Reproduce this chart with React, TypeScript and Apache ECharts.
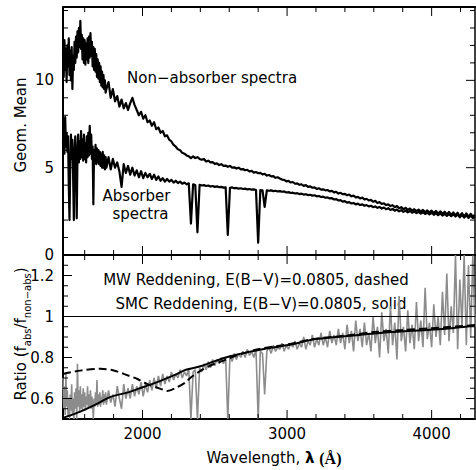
import React, { useEffect, useRef } from "react";
import * as echarts from "echarts";

const FONT = '"DejaVu Sans", "Liberation Sans", sans-serif';

// ---- axis ranges & tick values ----
const X_MIN = 1450;
const X_MAX = 4300;
const X_MAJOR = [2000, 3000, 4000];
const X_MINOR = [1600, 1800, 2200, 2400, 2600, 2800, 3200, 3400, 3600, 3800, 4200];
const YT_MIN = 0;
const YT_MAX = 14.2;
const YT_MAJOR = [0, 5, 10];
const YT_MINOR = [1, 2, 3, 4, 6, 7, 8, 9, 11, 12, 13, 14];
const YB_MIN = 0.5;
const YB_MAX = 1.3;
const YB_MAJOR = [0.6, 0.8, 1, 1.2];
const YB_MINOR = [0.55, 0.65, 0.7, 0.75, 0.85, 0.9, 0.95, 1.05, 1.1, 1.15, 1.25];

// ---- wavelength grid of the spectra (Å): 5 Å steps up to 1745, then 15 Å ----
const WAVELENGTH = [
  1450, 1455, 1460, 1465, 1470, 1475, 1480, 1485, 1490, 1495,
  1500, 1505, 1510, 1515, 1520, 1525, 1530, 1535, 1540, 1545,
  1550, 1555, 1560, 1565, 1570, 1575, 1580, 1585, 1590, 1595,
  1600, 1605, 1610, 1615, 1620, 1625, 1630, 1635, 1640, 1645,
  1650, 1655, 1660, 1665, 1670, 1675, 1680, 1685, 1690, 1695,
  1700, 1705, 1710, 1715, 1720, 1725, 1730, 1735, 1740, 1745,
  1750, 1765, 1780, 1795, 1810, 1825, 1840, 1855, 1870, 1885,
  1900, 1915, 1930, 1945, 1960, 1975, 1990, 2005, 2020, 2035,
  2050, 2065, 2080, 2095, 2110, 2125, 2140, 2155, 2170, 2185,
  2200, 2215, 2230, 2245, 2260, 2275, 2290, 2305, 2320, 2335,
  2350, 2365, 2380, 2395, 2410, 2425, 2440, 2455, 2470, 2485,
  2500, 2515, 2530, 2545, 2560, 2575, 2590, 2605, 2620, 2635,
  2650, 2665, 2680, 2695, 2710, 2725, 2740, 2755, 2770, 2785,
  2800, 2815, 2830, 2845, 2860, 2875, 2890, 2905, 2920, 2935,
  2950, 2965, 2980, 2995, 3010, 3025, 3040, 3055, 3070, 3085,
  3100, 3115, 3130, 3145, 3160, 3175, 3190, 3205, 3220, 3235,
  3250, 3265, 3280, 3295, 3310, 3325, 3340, 3355, 3370, 3385,
  3400, 3415, 3430, 3445, 3460, 3475, 3490, 3505, 3520, 3535,
  3550, 3565, 3580, 3595, 3610, 3625, 3640, 3655, 3670, 3685,
  3700, 3715, 3730, 3745, 3760, 3775, 3790, 3805, 3820, 3835,
  3850, 3865, 3880, 3895, 3910, 3925, 3940, 3955, 3970, 3985,
  4000, 4015, 4030, 4045, 4060, 4075, 4090, 4105, 4120, 4135,
  4150, 4165, 4180, 4195, 4210, 4225, 4240, 4255, 4270, 4285,
  4300,
];

// Non-absorber geometric-mean spectrum
const NON_ABSORBER = [
  11.6, 10.2, 12.3, 10.6, 11.8, 9.9, 12.0, 10.8, 12.4, 10.3,
  11.7, 10.0, 11.9, 9.5, 11.4, 10.6, 12.2, 11.0, 12.5, 11.3,
  12.8, 11.6, 13.0, 11.9, 13.4, 11.8, 12.6, 11.2, 12.4, 11.0,
  12.3, 10.9, 12.1, 11.2, 12.4, 11.0, 12.5, 11.3, 12.7, 11.4,
  12.2, 10.8, 11.9, 10.6, 11.8, 10.5, 11.5, 10.2, 11.2, 10.1,
  11.0, 9.9, 10.8, 9.7, 10.5, 9.6, 10.3, 9.5, 10.0, 9.3,
  9.5, 9.9, 9.0, 9.5, 8.8, 9.1, 8.5, 8.9, 8.4, 8.7,
  8.3, 8.7, 9.0, 8.6, 8.3, 8.0, 8.2, 7.8, 8.0, 7.6,
  7.7, 7.4, 7.6, 7.2, 7.3, 7.0, 7.1, 6.8, 6.85, 6.6,
  6.5, 6.3, 6.2, 6.05, 6.0, 5.85, 5.8, 5.7, 5.65, 5.55,
  5.65, 5.55, 5.6, 5.5, 5.45, 5.5, 5.35, 5.4, 5.3, 5.32,
  5.22, 5.25, 5.15, 5.2, 5.1, 5.12, 5.05, 5.1, 5.0, 5.02,
  4.95, 5.0, 4.9, 4.92, 4.85, 4.88, 4.78, 4.82, 4.72, 4.75,
  4.68, 4.7, 4.62, 4.65, 4.55, 4.58, 4.5, 4.52, 4.42, 4.45,
  4.38, 4.32, 4.3, 4.22, 4.24, 4.15, 4.18, 4.08, 4.1, 4.02,
  4.05, 3.96, 4.0, 3.9, 3.93, 3.85, 3.87, 3.78, 3.82, 3.74,
  3.76, 3.7, 3.72, 3.64, 3.67, 3.58, 3.62, 3.52, 3.56, 3.48,
  3.5, 3.42, 3.46, 3.36, 3.4, 3.3, 3.33, 3.24, 3.28, 3.18,
  3.22, 3.12, 3.16, 3.05, 3.1, 2.98, 3.03, 2.92, 2.96, 2.86,
  2.9, 2.8, 2.85, 2.74, 2.8, 2.68, 2.74, 2.62, 2.7, 2.58,
  2.66, 2.55, 2.62, 2.52, 2.6, 2.48, 2.58, 2.45, 2.55, 2.44,
  2.54, 2.4, 2.52, 2.38, 2.5, 2.36, 2.48, 2.32, 2.46, 2.3,
  2.44, 2.28, 2.42, 2.22, 2.4, 2.2, 2.38, 2.18, 2.36, 2.2,
  2.3,
];

// Absorber geometric-mean spectrum
const ABSORBER = [
  6.4, 7.6, 5.8, 7.9, 6.2, 7.0, 5.9, 6.8, 4.0, 2.0,
  5.0, 6.9, 5.5, 6.6, 4.5, 2.0, 5.8, 6.8, 5.4, 2.1,
  5.6, 6.9, 5.3, 6.5, 5.5, 7.1, 5.6, 6.6, 5.4, 6.9,
  5.5, 6.4, 5.3, 6.8, 5.6, 7.0, 5.7, 7.4, 5.8, 6.9,
  5.5, 6.2, 2.9, 6.0, 5.3, 6.3, 5.2, 6.1, 5.3, 6.0,
  5.2, 5.9, 5.1, 5.8, 5.0, 5.9, 5.0, 5.7, 4.9, 5.6,
  5.0, 5.6, 4.9, 5.5, 5.0, 5.3, 4.8, 3.9, 5.2, 4.7,
  5.1, 4.6, 5.0, 4.55, 4.85, 4.45, 4.8, 4.4, 4.7, 4.45,
  4.65, 4.35, 4.6, 4.3, 4.5, 4.25, 4.4, 4.2, 4.35, 4.2,
  4.3, 4.15, 4.25, 4.12, 4.2, 4.08, 4.15, 4.05, 4.1, 1.8,
  4.05, 4.0, 1.3, 4.02, 3.98, 4.0, 3.95, 3.98, 3.92, 3.95,
  3.9, 3.93, 3.88, 3.9, 3.86, 3.88, 1.15, 3.85, 3.87, 3.82,
  3.84, 3.8, 3.82, 3.78, 3.8, 3.76, 3.78, 3.74, 3.76, 3.72,
  0.7, 3.72, 3.7, 2.75, 3.7, 3.68, 3.7, 3.66, 3.68, 3.64,
  3.66, 3.62, 3.64, 3.58, 3.6, 3.55, 3.57, 3.52, 3.54, 3.49,
  3.51, 3.46, 3.48, 3.43, 3.45, 3.4, 3.42, 3.36, 3.38, 3.32,
  3.34, 3.28, 3.3, 3.24, 3.26, 3.18, 3.2, 3.12, 3.14, 3.06,
  3.08, 3.0, 3.03, 2.95, 2.98, 2.9, 2.94, 2.86, 2.9, 2.82,
  2.86, 2.78, 2.82, 2.74, 2.78, 2.7, 2.75, 2.66, 2.72, 2.62,
  2.68, 2.58, 2.64, 2.54, 2.6, 2.5, 2.57, 2.47, 2.54, 2.44,
  2.52, 2.42, 2.5, 2.4, 2.47, 2.37, 2.45, 2.35, 2.43, 2.33,
  2.42, 2.3, 2.4, 2.28, 2.38, 2.26, 2.36, 2.24, 2.34, 2.22,
  2.33, 2.2, 2.32, 2.16, 2.3, 2.14, 2.28, 2.12, 2.26, 2.12,
  2.2,
];

// Ratio f_abs / f_non-abs
const RATIO = [
  0.7, 0.55, 0.66, 0.52, 0.72, 0.56, 0.64, 0.51, 0.6, 0.5,
  0.62, 0.54, 0.67, 0.52, 0.6, 0.5, 0.63, 0.55, 0.65, 0.5,
  0.77, 0.56, 0.64, 0.53, 0.66, 0.55, 0.62, 0.54, 0.65, 0.56,
  0.63, 0.54, 0.61, 0.57, 0.66, 0.55, 0.62, 0.56, 0.64, 0.55,
  0.61, 0.57, 0.5, 0.6, 0.56, 0.63, 0.57, 0.69, 0.56, 0.62,
  0.57, 0.63, 0.56, 0.61, 0.58, 0.64, 0.57, 0.62, 0.58, 0.63,
  0.57, 0.64, 0.58, 0.62, 0.56, 0.66, 0.6, 0.55, 0.67, 0.6,
  0.65, 0.6, 0.67, 0.61, 0.66, 0.62, 0.68, 0.61, 0.67, 0.63,
  0.69, 0.64, 0.7, 0.65, 0.71, 0.66, 0.72, 0.67, 0.71, 0.68,
  0.73, 0.69, 0.72, 0.7, 0.74, 0.7, 0.73, 0.71, 0.745, 0.5,
  0.73, 0.74, 0.5, 0.75, 0.73, 0.77, 0.74, 0.78, 0.75, 0.79,
  0.76, 0.79, 0.77, 0.8, 0.77, 0.8, 0.5, 0.81, 0.78, 0.82,
  0.79, 0.82, 0.8, 0.83, 0.8, 0.84, 0.81, 0.83, 0.8, 0.84,
  0.5, 0.83, 0.82, 0.62, 0.83, 0.85, 0.82, 0.86, 0.83, 0.85,
  0.84, 0.87, 0.83, 0.86, 0.84, 0.87, 0.85, 0.88, 0.84, 0.87,
  0.85, 0.9, 0.84, 0.88, 0.86, 0.91, 0.85, 0.89, 0.86, 0.92,
  0.86, 0.9, 0.85, 0.93, 0.87, 0.91, 0.86, 0.94, 0.87, 0.92,
  0.84, 0.96, 0.87, 0.93, 0.83, 0.98, 0.88, 0.94, 0.85, 0.97,
  0.86, 0.92, 0.83, 1.0, 0.87, 0.95, 0.8, 1.02, 0.88, 0.94,
  0.82, 1.05, 0.86, 0.97, 0.79, 1.1, 0.88, 0.95, 0.83, 1.03,
  0.87, 0.96, 0.84, 1.07, 0.88, 0.98, 0.85, 1.14, 0.89, 0.97,
  0.85, 1.06, 0.9, 1.0, 0.86, 1.12, 0.91, 1.21, 0.88, 1.05,
  0.92, 1.3, 0.84, 1.18, 0.95, 1.3, 0.86, 1.25, 0.9, 1.3,
  0.95,
];

// SMC reddening curve (solid)
const SMC_WL = [1450, 1490, 1570, 1660, 1780, 1900, 2000, 2120, 2240, 2300, 2400, 2490, 2600, 2720, 2830, 2950, 3070, 3180, 3300, 3500, 3700, 3900, 4100, 4300];
const SMC_R = [0.505, 0.515, 0.536, 0.565, 0.608, 0.63, 0.655, 0.685, 0.72, 0.74, 0.757, 0.78, 0.805, 0.825, 0.84, 0.854, 0.87, 0.888, 0.897, 0.91, 0.923, 0.932, 0.94, 0.956];

// MW reddening curve (dashed)
const MW_WL = [1450, 1570, 1710, 1800, 1870, 1965, 2035, 2125, 2170, 2240, 2300, 2330, 2400, 2490, 2560, 2650, 2800, 3000, 3200, 3400, 3600, 3800, 4000, 4300];
const MW_R = [0.72, 0.736, 0.745, 0.737, 0.72, 0.695, 0.67, 0.647, 0.637, 0.655, 0.68, 0.7, 0.735, 0.767, 0.785, 0.81, 0.84, 0.864, 0.892, 0.906, 0.924, 0.934, 0.943, 0.958];

const pairs = (xs: number[], ys: number[]) => xs.map((x, i) => [x, ys[i]]);

const fmt = (v: number) => String(Math.round(v * 100) / 100);

const MAJOR_LEN = 9;
const MINOR_LEN = 5;

function xAxisDef(gridIndex: number, position: "top" | "bottom", labels: boolean) {
  return {
    type: "value",
    gridIndex,
    position,
    min: X_MIN,
    max: X_MAX,
    axisLine: { show: true, onZero: false, lineStyle: { color: "#000", width: 2 } },
    axisTick: { show: false },
    axisLabel: labels
      ? { show: true, customValues: X_MAJOR, margin: 7, color: "#000", fontSize: 15, fontFamily: FONT, formatter: fmt }
      : { show: false },
    splitLine: { show: false },
    minorTick: { show: false },
  };
}

function yAxisDef(gridIndex: number, position: "left" | "right", labels: boolean, min: number, max: number, majorVals: number[]) {
  return {
    type: "value",
    gridIndex,
    position,
    min,
    max,
    axisLine: { show: true, onZero: false, lineStyle: { color: "#000", width: position === "left" ? 2 : 1.5 } },
    axisTick: { show: false },
    axisLabel: labels
      ? { show: true, customValues: majorVals, margin: 9, color: "#000", fontSize: 15, fontFamily: FONT, formatter: fmt }
      : { show: false },
    splitLine: { show: false },
    minorTick: { show: false },
  };
}

// Tick marks drawn inward on both sides of a panel, placed through the axes' own scales.
function tickSeries(axisIndex: number, dim: "x" | "y", values: number[], majorVals: number[], lo: number, hi: number) {
  return {
    type: "custom",
    xAxisIndex: axisIndex,
    yAxisIndex: axisIndex,
    silent: true,
    clip: false,
    z: 6,
    data: values.map((v) => [v]),
    renderItem: (_params: any, api: any) => {
      const v = api.value(0);
      const len = majorVals.includes(v) ? MAJOR_LEN : MINOR_LEN;
      const style = { stroke: "#000", lineWidth: 1 };
      if (dim === "x") {
        const a = api.coord([v, lo]);
        const b = api.coord([v, hi]);
        return {
          type: "group",
          children: [
            { type: "line", shape: { x1: a[0], y1: a[1], x2: a[0], y2: a[1] - len }, style },
            { type: "line", shape: { x1: b[0], y1: b[1], x2: b[0], y2: b[1] + len }, style },
          ],
        };
      }
      const a = api.coord([lo, v]);
      const b = api.coord([hi, v]);
      return {
        type: "group",
        children: [
          { type: "line", shape: { x1: a[0], y1: a[1], x2: a[0] + len, y2: a[1] }, style },
          { type: "line", shape: { x1: b[0], y1: b[1], x2: b[0] - len, y2: b[1] }, style },
        ],
      };
    },
  };
}

function buildOption() {
  const textStyle = { font: `15px ${FONT}`, fill: "#000" };
  const X_TICKS = [...X_MAJOR, ...X_MINOR];
  return {
    animation: false,
    backgroundColor: "#fff",
    grid: [
      { left: 63, top: 7, width: 412, height: 248 },
      { left: 63, top: 255, width: 412, height: 164 },
    ],
    xAxis: [
      xAxisDef(0, "bottom", false),
      xAxisDef(0, "top", false),
      xAxisDef(1, "bottom", true),
      xAxisDef(1, "top", false),
    ],
    yAxis: [
      yAxisDef(0, "left", true, YT_MIN, YT_MAX, YT_MAJOR),
      yAxisDef(0, "right", false, YT_MIN, YT_MAX, YT_MAJOR),
      yAxisDef(1, "left", true, YB_MIN, YB_MAX, YB_MAJOR),
      yAxisDef(1, "right", false, YB_MIN, YB_MAX, YB_MAJOR),
    ],
    series: [
      {
        name: "Non-absorber spectra",
        type: "line",
        xAxisIndex: 0,
        yAxisIndex: 0,
        data: pairs(WAVELENGTH, NON_ABSORBER),
        showSymbol: false,
        silent: true,
        lineStyle: { color: "#000", width: 2.2, join: "round" },
      },
      {
        name: "Absorber spectra",
        type: "line",
        xAxisIndex: 0,
        yAxisIndex: 0,
        data: pairs(WAVELENGTH, ABSORBER),
        showSymbol: false,
        silent: true,
        lineStyle: { color: "#000", width: 2.2, join: "round" },
      },
      {
        name: "Ratio",
        type: "line",
        xAxisIndex: 2,
        yAxisIndex: 2,
        data: pairs(WAVELENGTH, RATIO),
        showSymbol: false,
        silent: true,
        lineStyle: { color: "#8c8c8c", width: 1.6 },
      },
      {
        name: "MW Reddening",
        type: "line",
        xAxisIndex: 2,
        yAxisIndex: 2,
        data: pairs(MW_WL, MW_R),
        showSymbol: false,
        silent: true,
        smooth: 0.3,
        lineStyle: { color: "#000", width: 2, type: [8, 4] },
      },
      {
        name: "SMC Reddening",
        type: "line",
        xAxisIndex: 2,
        yAxisIndex: 2,
        data: pairs(SMC_WL, SMC_R),
        showSymbol: false,
        silent: true,
        smooth: 0.3,
        lineStyle: { color: "#000", width: 2 },
        markLine: {
          silent: true,
          symbol: "none",
          label: { show: false },
          lineStyle: { color: "#000", width: 1, type: "solid" },
          data: [{ yAxis: 1 }],
        },
      },
      tickSeries(0, "x", X_TICKS, X_MAJOR, YT_MIN, YT_MAX),
      tickSeries(0, "y", [...YT_MAJOR, ...YT_MINOR], YT_MAJOR, X_MIN, X_MAX),
      tickSeries(2, "x", X_TICKS, X_MAJOR, YB_MIN, YB_MAX),
      tickSeries(2, "y", [...YB_MAJOR, ...YB_MINOR], YB_MAJOR, X_MIN, X_MAX),
    ],
    graphic: {
      elements: [
        { type: "text", x: 127, y: 78, silent: true, style: { ...textStyle, text: "Non\u2212absorber spectra", align: "left", verticalAlign: "middle" } },
        { type: "text", x: 136.5, y: 196, silent: true, style: { ...textStyle, text: "Absorber", align: "center", verticalAlign: "middle" } },
        { type: "text", x: 140.5, y: 214, silent: true, style: { ...textStyle, text: "spectra", align: "center", verticalAlign: "middle" } },
        { type: "text", x: 256, y: 280, silent: true, style: { ...textStyle, text: "MW Reddening, E(B\u2212V)=0.0805, dashed", align: "center", verticalAlign: "middle" } },
        { type: "text", x: 261, y: 304, silent: true, style: { ...textStyle, text: "SMC Reddening, E(B\u2212V)=0.0805, solid", align: "center", verticalAlign: "middle" } },
        { type: "text", x: 21, y: 125, rotation: Math.PI / 2, silent: true, style: { ...textStyle, text: "Geom. Mean", align: "center", verticalAlign: "middle" } },
        {
          type: "text",
          x: 21,
          y: 334,
          rotation: Math.PI / 2,
          silent: true,
          style: {
            text: "{m|Ratio (f}{s|abs}{m|/f}{s|non\u2212abs}{m|)}",
            align: "center",
            verticalAlign: "middle",
            fill: "#000",
            rich: {
              m: { fontSize: 15, fontFamily: FONT, lineHeight: 22, verticalAlign: "middle", fill: "#000" },
              s: { fontSize: 10, fontFamily: FONT, lineHeight: 12, verticalAlign: "bottom", fill: "#000" },
            },
          },
        },
        {
          type: "text",
          x: 274,
          y: 458,
          silent: true,
          style: {
            text: "{m|Wavelength, }{l|\u03bb}{m| }{b|(\u00c5)}",
            align: "center",
            verticalAlign: "middle",
            fill: "#000",
            rich: {
              m: { fontSize: 15, fontFamily: FONT, fill: "#000" },
              l: { fontSize: 15, fontFamily: FONT, fontWeight: "bold", fill: "#000" },
              b: { fontSize: 16, fontFamily: '"Liberation Serif", serif', fontWeight: "bold", fill: "#000" },
            },
          },
        },
      ],
    },
  };
}

export default function App() {
  const ref = useRef<HTMLDivElement>(null);
  useEffect(() => {
    document.body.style.margin = "0";
    const chart = echarts.init(ref.current as HTMLDivElement, null, { renderer: "svg" });
    chart.setOption(buildOption() as any);
    return () => chart.dispose();
  }, []);
  return <div ref={ref} style={{ width: 476, height: 470 }} />;
}
